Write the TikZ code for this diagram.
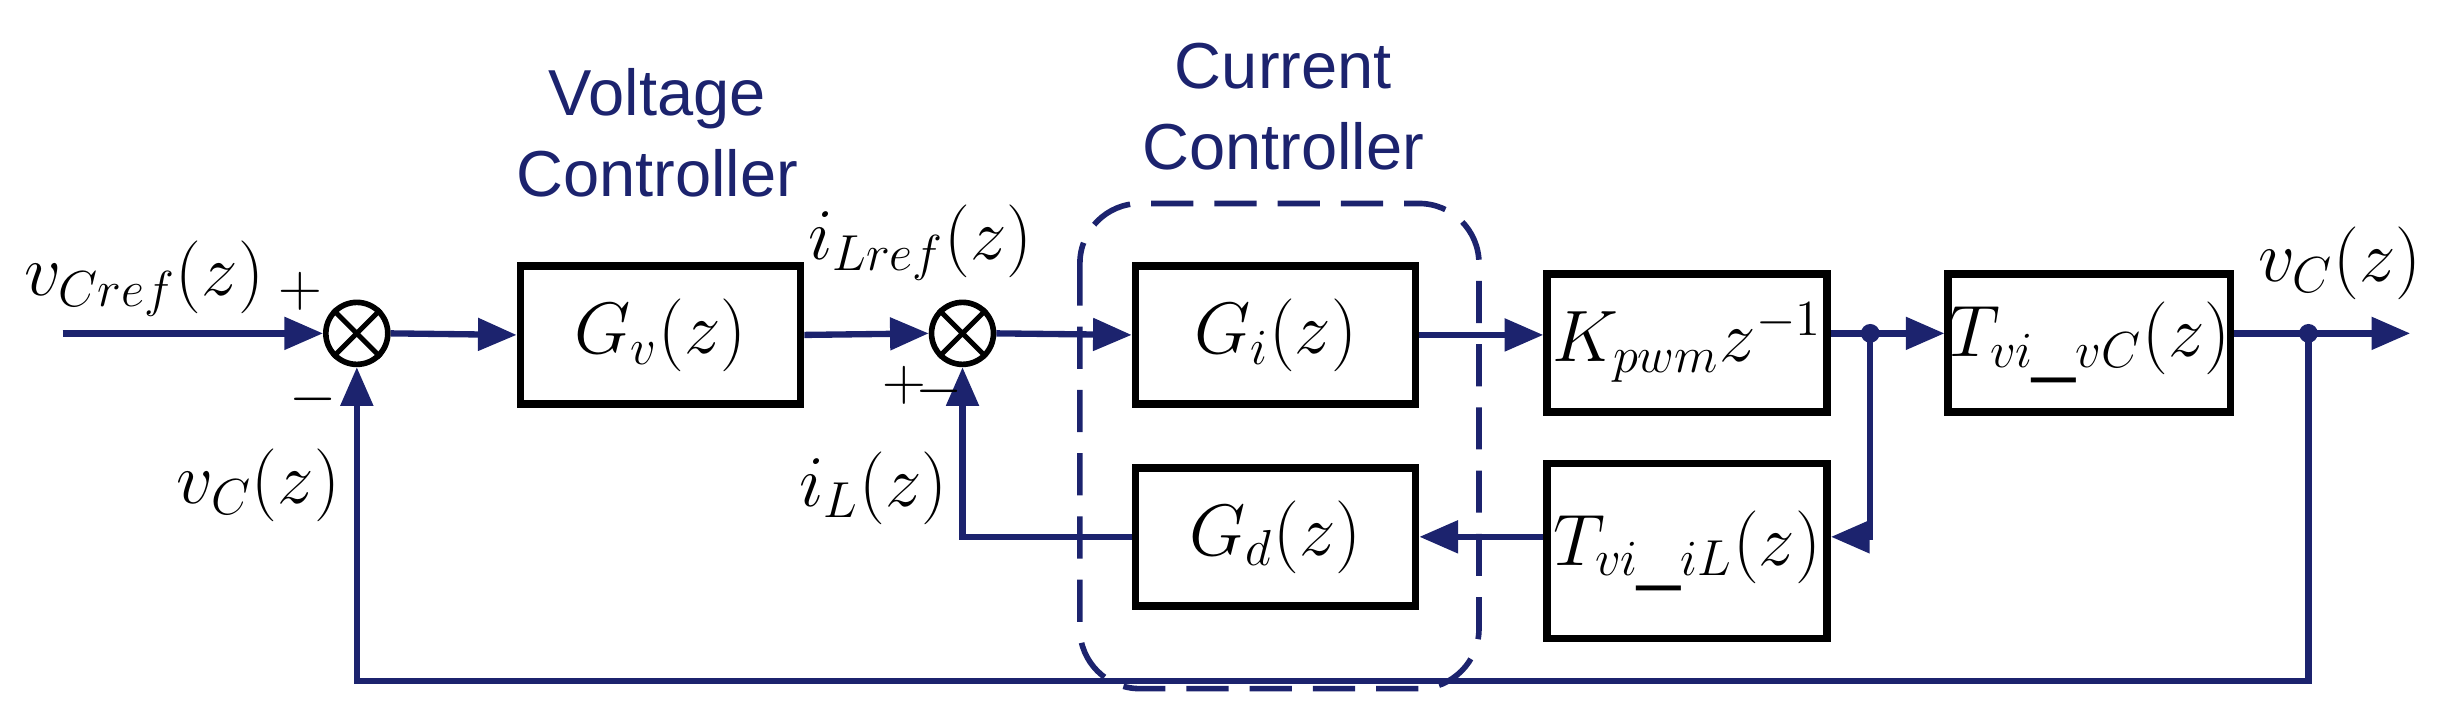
\documentclass[tikz,border=0pt]{standalone}
\usepackage{fontspec}
\setmainfont{Liberation Sans}
\usetikzlibrary{arrows.meta}
\definecolor{navy}{RGB}{28,35,110}
\begin{document}
\begin{tikzpicture}[x=0.01565cm,y=-0.01565cm,
  blk/.style={draw=black,line width=2.2pt,minimum width=2.8cm,minimum height=1.38cm,inner sep=0pt,font=\fontsize{22}{24}\selectfont},
  sum/.style={circle,draw=black,line width=1.6pt,minimum size=0.62cm,inner sep=0pt},
  sig/.style={draw=navy,line width=1.8pt},
  arr/.style={sig,-{Triangle[length=11pt,width=9pt]}},
  lab/.style={font=\fontsize{21}{23}\selectfont},
  pm/.style={font=\fontsize{17}{19}\selectfont,inner sep=0pt},
  ttl/.style={navy,font=\fontsize{18.5}{23}\selectfont,align=center}]
\useasboundingbox (0,0) rectangle (1568,458);
% summing junctions
\node[sum] (s1) at (228,213) {};
\draw[line width=1.4pt] (s1.north west)--(s1.south east) (s1.north east)--(s1.south west);
\node[sum] (s2) at (615,213) {};
\draw[line width=1.4pt] (s2.north west)--(s2.south east) (s2.north east)--(s2.south west);
% blocks
\node[blk] (gv) at (422,214) {$G_v(z)$};
\node[blk] (gi) at (815,214) {$G_i(z)$};
\node[blk] (gd) at (815,343) {$G_d(z)$};
\node[blk] (kp) at (1078,219) {$K_{pwm}z^{-1}$};
\node[blk,minimum height=1.75cm] (ti) at (1078,352) {$T_{vi\_iL}(z)$};
\node[blk] (tv) at (1335,219) {$T_{vi\_vC}(z)$};
% dashed controller box
\draw[navy,line width=1.6pt,dash pattern=on 12pt off 6pt,rounded corners=0.6cm] (690,130) rectangle (945,440);
% titles
\node[ttl] at (420,85) {Voltage\\Controller};
\node[ttl] at (820,68) {Current\\Controller};
% coordinates
\coordinate (in) at (40,213);
\coordinate (p1) at (1195,213);
\coordinate (p2) at (1475,213);
\coordinate (out) at (1540,213);
% signals
\draw[arr] (in) -- (s1.west);
\draw[arr] (s1.east) -- (gv.west);
\draw[arr] (gv.east) -- (s2.west);
\draw[arr] (s2.east) -- (gi.west);
\draw[arr] (gi.east) -- (kp.west|-gi.east);
\draw[arr] (kp.east|-p1) -- (tv.west|-p1);
\draw[arr] (p1) |- (ti.east|-gd.east);
\draw[arr] (ti.west|-gd.east) -- (gd.east);
\draw[arr] (gd.west) -| (s2.south);
\draw[arr] (tv.east|-p2) -- (out);
\draw[arr] (p2) -- (1475,435) -| (s1.south);
\fill[navy] (p1) circle (6);
\fill[navy] (p2) circle (6);
% labels
\node[lab] at (92,178) {$v_{Cref}(z)$};
\node[pm] at (192,186) {$+$};
\node[pm] at (200,255) {$-$};
\node[lab] at (165,310) {$v_C(z)$};
\node[lab] at (588,155) {$i_{Lref}(z)$};
\node[pm] at (578,246) {$+$};
\node[pm] at (600,250) {$-$};
\node[lab] at (558,312) {$i_L(z)$};
\node[lab] at (1495,168) {$v_C(z)$};
\end{tikzpicture}
\end{document}
